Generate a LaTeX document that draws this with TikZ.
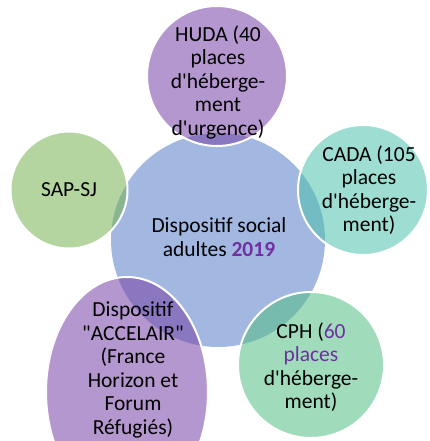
\documentclass[tikz,border=0pt]{standalone}
\usepackage{fontspec}
\setmainfont{Carlito}
\usetikzlibrary{shapes.geometric}
\definecolor{fondbleu}{RGB}{163,184,224}
\definecolor{mauve}{RGB}{118,66,166}
\definecolor{turquoise}{RGB}{79,193,173}
\definecolor{vertcph}{RGB}{82,191,133}
\definecolor{vertsap}{RGB}{118,179,82}
\definecolor{violetmot}{RGB}{112,48,160}
\newcommand{\apos}{\textquotesingle}
\newcommand{\guil}{\textquotedbl}
\begin{document}
\begin{tikzpicture}[
      x=1pt, y=-1pt,
      disque/.style={
        circle,
        inner sep=0pt,
        fill=fondbleu
      },
      bulle/.style={
        circle,
        inner sep=0pt,
        draw=white,
        line width=2pt,
        fill opacity=0.55,
        draw opacity=1
      },
      texte/.style={
        align=center,
        font=\fontsize{21.5}{23.5}\selectfont
      }
    ]
    \useasboundingbox (0,0) rectangle (429,441);
    \node[disque, minimum size=214pt] (centre) at (218,240) {};
    \node[bulle, fill=mauve, minimum size=140pt] (huda) at (217,76) {};
    \node[bulle, fill=turquoise, minimum size=130pt] (cada) at (363,190) {};
    \node[bulle, fill=vertcph, minimum size=146pt] (cph) at (311,365) {};
    \node[bulle, ellipse, fill=mauve, minimum width=162pt, minimum height=230pt] (accelair) at (127,392) {};
    \node[bulle, fill=vertsap, minimum size=117pt] (sapsj) at (69,190) {};

    \node[texte] (centre-texte) at (219,237) {Dispositif social\\adultes \textbf{\color{violetmot}2019}};
    \node[texte] (huda-texte) at (218,82) {HUDA (40\\places\\d\apos héberge-\\ment\\d\apos urgence)};
    \node[texte] (cada-texte) at (369,190) {CADA (105\\places\\d\apos héberge-\\ment)};
    \node[texte] (cph-texte) at (311,367) {CPH ({\color{violetmot}60}\\{\color{violetmot}places}\\d\apos héberge-\\ment)};
    \node[texte] (accelair-texte) at (133,370) {Dispositif\\\guil ACCELAIR\guil\\(France\\Horizon et\\Forum\\Réfugiés)};
    \node[texte] (sapsj-texte) at (69,190) {SAP-SJ};
  \end{tikzpicture}
\end{document}
